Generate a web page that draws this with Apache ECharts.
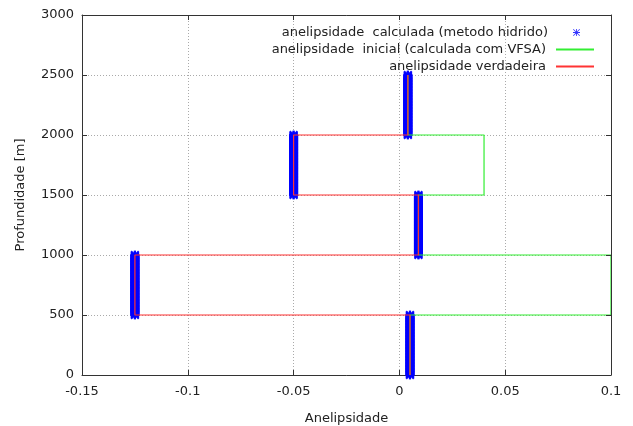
<!DOCTYPE html>
<html>
<head>
<meta charset="utf-8">
<script src="https://cdn.jsdelivr.net/npm/echarts@6/dist/echarts.min.js"></script>
<style>
  html, body { margin: 0; padding: 0; background: #fff; }
  #chart { width: 633px; height: 426px; }
</style>
</head>
<body>
<div id="chart"></div>
<script>
// Layered model: anelipsity per depth layer
const layerTop = [0, 500, 1000, 1500, 2000];
const layerBottom = [500, 1000, 1500, 2000, 2500];
const trueAnel = [0.005, -0.125, 0.009, -0.05, 0.004];
const initialAnel = [0.005, 0.1, 0.009, 0.04, 0.004];
const calculatedAnel = [0.005, -0.125, 0.009, -0.05, 0.004];
const depthSampling = 5; // m between calculated samples

const xTicks = [-0.15, -0.1, -0.05, 0, 0.05, 0.1];
const yTicks = [0, 500, 1000, 1500, 2000, 2500, 3000];

const seriesNames = [
  'anelipsidade  calculada (metodo hidrido)',
  'anelipsidade  inicial (calculada com VFSA)',
  'anelipsidade verdadeira'
];

// step profile: vertical segment per layer, horizontal jumps between layers
function stepProfile(vals) {
  const pts = [];
  for (let i = 0; i < vals.length; i++) {
    pts.push([vals[i], layerTop[i]]);
    pts.push([vals[i], layerBottom[i]]);
  }
  return pts;
}

// calculated values at every sampled depth of each layer
function sampledProfile(vals) {
  const pts = [];
  for (let i = 0; i < vals.length; i++) {
    for (let d = layerTop[i]; d <= layerBottom[i]; d += depthSampling) {
      pts.push([vals[i], d]);
    }
  }
  return pts;
}

// asterisk glyphs (+ and x), all sub-paths wound the same way
const starPath = 'path://M0 3.8H10V6.2H0Z M3.8 0H6.2V10H3.8Z M1.5 0L10 8.5L8.5 10L0 1.5Z M8.5 0L10 1.5L1.5 10L0 8.5Z';
const starLegend = 'path://M0 4.4H10V5.6H0Z M4.4 0H5.6V10H4.4Z M0.8 0L10 9.2L9.2 10L0 0.8Z M9.2 0L10 0.8L0.8 10L0 9.2Z';

const font = 'DejaVu Sans';
const fs = 13;
const textColor = '#222';
const axisColor = '#333';
const gridLine = { show: true, lineStyle: { color: '#aaa', type: [1, 2], width: 1 } };
const fmt = v => String(+Number(v).toFixed(2));

const chart = echarts.init(document.getElementById('chart'), null, { renderer: 'canvas' });

chart.setOption({
  animation: false,
  backgroundColor: '#fff',
  textStyle: { fontFamily: font },
  grid: { left: 82, right: 22, top: 15, bottom: 51, containLabel: false, outerBoundsMode: 'none' },
  legend: [
    {
      // star sample sits in the middle of the 38px key column
      data: [{ name: seriesNames[0], icon: starLegend }],
      orient: 'vertical',
      align: 'right',
      right: 53,
      top: 26,
      padding: 0,
      itemWidth: 7,
      itemHeight: 7,
      itemGap: 4,
      symbolKeepAspect: true,
      textStyle: { fontFamily: font, fontSize: fs, color: textColor, padding: [0, 20, 0, 0] },
      selectedMode: false
    },
    {
      data: [seriesNames[1], seriesNames[2]],
      orient: 'vertical',
      align: 'right',
      right: 38,
      top: 43,
      padding: 0,
      itemWidth: 38,
      itemHeight: 14,
      itemGap: 4,
      itemStyle: { opacity: 0 },
      textStyle: { fontFamily: font, fontSize: fs, color: textColor, padding: [0, 5, 0, 0] },
      selectedMode: false
    }
  ],
  xAxis: [
    {
      type: 'value', position: 'bottom',
      min: xTicks[0], max: xTicks[xTicks.length - 1], interval: 0.05,
      name: 'Anelipsidade', nameLocation: 'middle', nameGap: 37,
      nameTextStyle: { fontFamily: font, fontSize: fs, color: textColor },
      axisLine: { show: true, onZero: false, lineStyle: { color: axisColor, width: 1 } },
      axisTick: { show: true, inside: true, length: 5, lineStyle: { color: axisColor } },
      axisLabel: { formatter: fmt, margin: 10, fontFamily: font, fontSize: fs, color: textColor },
      splitLine: gridLine
    },
    {
      type: 'value', position: 'top',
      min: xTicks[0], max: xTicks[xTicks.length - 1], interval: 0.05,
      axisLine: { show: true, onZero: false, lineStyle: { color: axisColor, width: 1 } },
      axisTick: { show: true, inside: true, length: 5, lineStyle: { color: axisColor } },
      axisLabel: { show: false },
      splitLine: { show: false }
    }
  ],
  yAxis: [
    {
      type: 'value', position: 'left',
      min: yTicks[0], max: yTicks[yTicks.length - 1], interval: 500,
      name: 'Profundidade [m]', nameLocation: 'middle', nameGap: 55, nameRotate: 90,
      nameTextStyle: { fontFamily: font, fontSize: fs, color: textColor },
      axisLine: { show: true, onZero: false, lineStyle: { color: axisColor, width: 1 } },
      axisTick: { show: true, inside: true, length: 5, lineStyle: { color: axisColor } },
      axisLabel: { formatter: v => String(v), margin: 8, fontFamily: font, fontSize: fs, color: textColor },
      splitLine: gridLine
    },
    {
      type: 'value', position: 'right', z: 5,
      min: yTicks[0], max: yTicks[yTicks.length - 1], interval: 500,
      axisLine: { show: true, onZero: false, lineStyle: { color: axisColor, width: 1 } },
      axisTick: { show: true, inside: true, length: 5, lineStyle: { color: axisColor } },
      axisLabel: { show: false },
      splitLine: { show: false }
    }
  ],
  series: [
    {
      name: seriesNames[0],
      type: 'scatter',
      data: sampledProfile(calculatedAnel),
      symbol: starPath,
      symbolSize: 9,
      symbolKeepAspect: true,
      itemStyle: { color: '#0000ff' },
      z: 2
    },
    {
      name: seriesNames[1],
      type: 'line',
      data: stepProfile(initialAnel),
      symbol: 'none',
      clip: false,
      lineStyle: { color: '#33ee33', width: 1.2 },
      itemStyle: { color: '#33ee33', opacity: 0 },
      z: 3
    },
    {
      name: seriesNames[2],
      type: 'line',
      data: stepProfile(trueAnel),
      symbol: 'none',
      clip: false,
      lineStyle: { color: '#ff3333', width: 1.2 },
      itemStyle: { color: '#ff3333', opacity: 0 },
      z: 4
    }
  ]
});
</script>
</body>
</html>
